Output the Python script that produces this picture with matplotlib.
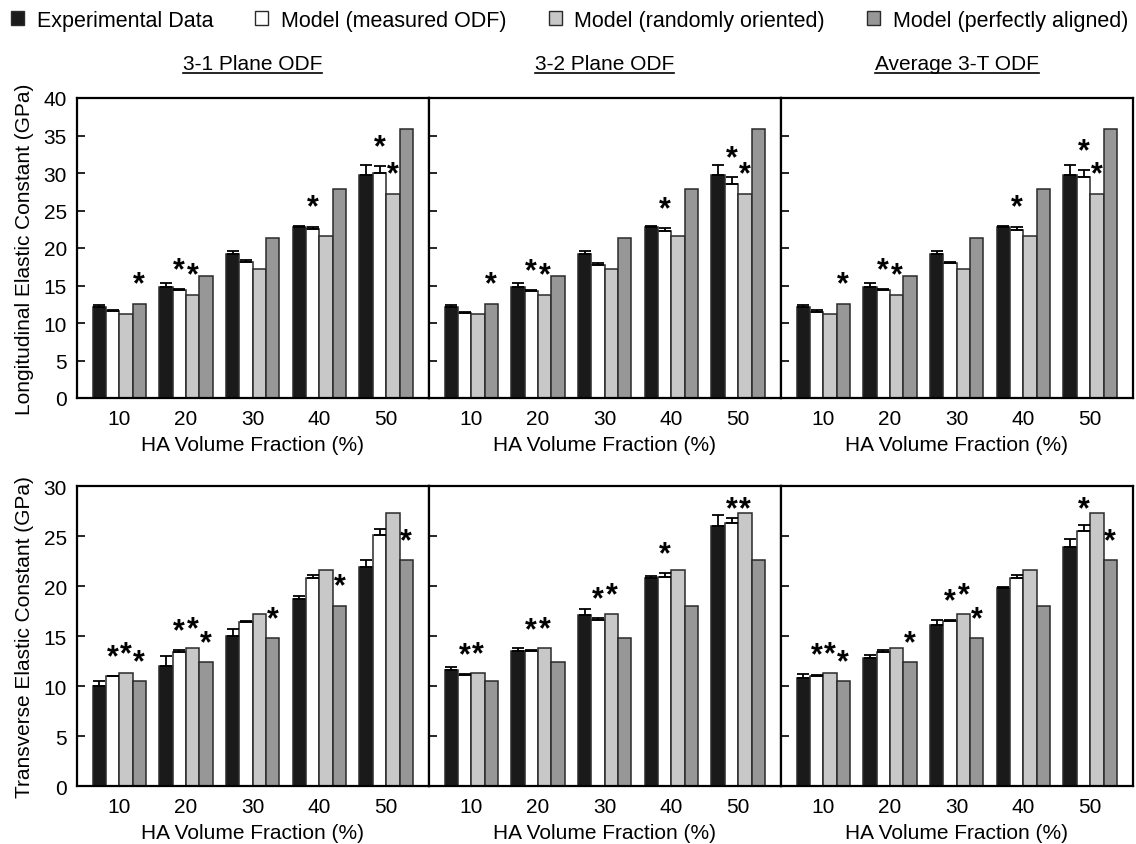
import matplotlib.pyplot as plt
import numpy as np
from matplotlib.lines import Line2D
from matplotlib.patches import Patch

plt.rcParams["font.family"] = ["Liberation Sans", "DejaVu Sans"]
plt.rcParams["font.size"] = 15

FRACTIONS = ["10", "20", "30", "40", "50"]
SERIES = [
    "Experimental Data",
    "Model (measured ODF)",
    "Model (randomly oriented)",
    "Model (perfectly aligned)",
]
PANELS = ["3-1 Plane ODF", "3-2 Plane ODF", "Average 3-T ODF"]

# Longitudinal elastic constant (GPa)
LONG_EXP = [12.2, 14.85, 19.25, 22.75, 29.8]
LONG_EXP_ERR = [0.22, 0.49, 0.31, 0.18, 1.29]
LONG_MEAS_31 = [11.65, 14.35, 18.2, 22.5, 30.0]
LONG_MEAS_31_ERR = [0.1, 0.18, 0.18, 0.36, 0.93]
LONG_MEAS_32 = [11.4, 14.27, 17.8, 22.3, 28.6]
LONG_MEAS_32_ERR = [0.13, 0.13, 0.18, 0.4, 0.84]
LONG_MEAS_AVG = [11.5, 14.35, 18.05, 22.45, 29.45]
LONG_MEAS_AVG_ERR = [0.18, 0.18, 0.13, 0.4, 0.93]
LONG_RANDOM = [11.25, 13.8, 17.15, 21.6, 27.25]
LONG_ALIGNED = [12.6, 16.3, 21.4, 27.85, 35.9]

# Transverse elastic constant (GPa)
TRANS_EXP_31 = [10.0, 12.07, 15.07, 18.7, 21.97]
TRANS_EXP_31_ERR = [0.57, 0.93, 0.63, 0.3, 0.63]
TRANS_EXP_32 = [11.67, 13.53, 17.1, 20.8, 26.03]
TRANS_EXP_32_ERR = [0.23, 0.33, 0.63, 0.2, 1.13]
TRANS_EXP_AVG = [10.83, 12.8, 16.1, 19.8, 23.97]
TRANS_EXP_AVG_ERR = [0.4, 0.33, 0.53, 0.1, 0.77]
TRANS_MEAS_31 = [11.0, 13.47, 16.4, 20.8, 25.1]
TRANS_MEAS_31_ERR = [0.05, 0.17, 0.17, 0.37, 0.63]
TRANS_MEAS_32 = [11.17, 13.53, 16.67, 20.97, 26.3]
TRANS_MEAS_32_ERR = [0.05, 0.13, 0.17, 0.33, 0.57]
TRANS_MEAS_AVG = [11.07, 13.47, 16.5, 20.8, 25.53]
TRANS_MEAS_AVG_ERR = [0.1, 0.13, 0.13, 0.3, 0.6]
TRANS_RANDOM = [11.3, 13.83, 17.2, 21.6, 27.3]
TRANS_ALIGNED = [10.5, 12.4, 14.83, 18.07, 22.6]

# Series flagged with * in each HA group (1 = measured ODF, 2 = random, 3 = aligned)
LONG_STARS = [[3], [1, 2], [], [1], [1, 2]]
TRANS_STARS_31 = [[1, 2, 3], [1, 2, 3], [3], [3], [3]]
TRANS_STARS_32 = [[1, 2], [1, 2], [1, 2], [1], [1, 2]]
TRANS_STARS_AVG = [[1, 2, 3], [3], [1, 2, 3], [], [1, 3]]

COLORS = ["#1a1a1a", "#ffffff", "#c8c8c8", "#979797"]
EDGE = "#2a2a2a"
BAR_W = 0.2

W, H = 1136, 845


def draw_panel(ax, values, errors, stars, ymax):
    x = np.arange(1, len(FRACTIONS) + 1)
    px_per_unit = 300.0 / ymax
    for k in range(4):
        xs = x + (k - 1.5) * BAR_W
        ax.bar(xs, values[k], BAR_W, color=COLORS[k], edgecolor=EDGE,
               linewidth=1.1, zorder=2)
        if errors[k] is not None:
            ax.errorbar(xs, values[k], yerr=[np.zeros(len(x)), errors[k]],
                        fmt="none", ecolor="black", elinewidth=1.3,
                        capsize=4, capthick=1.3, zorder=3)
    for g, idxs in enumerate(stars):
        for k in idxs:
            top = values[k][g] + (errors[k][g] if errors[k] is not None else 0)
            y = min(top + 19.0 / px_per_unit, ymax - 23.0 / px_per_unit)
            ax.text(x[g] + (k - 1.5) * BAR_W, y, "*", ha="center", va="center",
                    fontsize=22, fontweight="bold", zorder=4)

    ax.set_xlim(0.363, 5.637)
    ax.set_ylim(0, ymax)
    ax.set_xticks(x)
    ax.set_xticklabels(FRACTIONS)
    ax.tick_params(axis="x", length=0, pad=8, labelsize=15)
    ax.tick_params(axis="y", direction="in", length=5.5, width=1.2,
                   pad=7, labelsize=15)
    for sp in ax.spines.values():
        sp.set_linewidth(1.6)
    ax.set_xlabel("HA Volume Fraction (%)", fontsize=15, labelpad=5)


fig = plt.figure(figsize=(W / 100, H / 100), dpi=100)
fig.patch.set_facecolor("white")

left0 = 76.7 / W
pw = 352.0 / W
ph = 300.0 / H
rows = [1 - 399.0 / H, 1 - 787.3 / H]

long_sets = [
    ([LONG_EXP, LONG_MEAS_31, LONG_RANDOM, LONG_ALIGNED],
     [LONG_EXP_ERR, LONG_MEAS_31_ERR, None, None], LONG_STARS),
    ([LONG_EXP, LONG_MEAS_32, LONG_RANDOM, LONG_ALIGNED],
     [LONG_EXP_ERR, LONG_MEAS_32_ERR, None, None], LONG_STARS),
    ([LONG_EXP, LONG_MEAS_AVG, LONG_RANDOM, LONG_ALIGNED],
     [LONG_EXP_ERR, LONG_MEAS_AVG_ERR, None, None], LONG_STARS),
]
trans_sets = [
    ([TRANS_EXP_31, TRANS_MEAS_31, TRANS_RANDOM, TRANS_ALIGNED],
     [TRANS_EXP_31_ERR, TRANS_MEAS_31_ERR, None, None], TRANS_STARS_31),
    ([TRANS_EXP_32, TRANS_MEAS_32, TRANS_RANDOM, TRANS_ALIGNED],
     [TRANS_EXP_32_ERR, TRANS_MEAS_32_ERR, None, None], TRANS_STARS_32),
    ([TRANS_EXP_AVG, TRANS_MEAS_AVG, TRANS_RANDOM, TRANS_ALIGNED],
     [TRANS_EXP_AVG_ERR, TRANS_MEAS_AVG_ERR, None, None], TRANS_STARS_AVG),
]

for row, (sets, ymax, yticks) in enumerate([
        (long_sets, 40, np.arange(0, 41, 5)),
        (trans_sets, 30, np.arange(0, 31, 5))]):
    for col, (vals, errs, stars) in enumerate(sets):
        ax = fig.add_axes([left0 + col * pw, rows[row], pw, ph])
        draw_panel(ax, vals, errs, stars, ymax)
        ax.set_yticks(yticks)
        if col > 0:
            ax.set_yticklabels([])

# y-axis titles for each row
fig.text(25 / W, rows[0] + ph / 2, "Longitudinal Elastic Constant (GPa)",
         rotation=90, ha="center", va="center", fontsize=15)
fig.text(25 / W, rows[1] + ph / 2, "Transverse Elastic Constant (GPa)",
         rotation=90, ha="center", va="center", fontsize=15)

# underlined panel headings
title_texts = []
for col, name in enumerate(PANELS):
    cx = left0 + (col + 0.5) * pw
    title_texts.append(fig.text(cx, 1 - 70 / H, name, ha="center",
                                va="baseline", fontsize=15))
fig.canvas.draw()
renderer = fig.canvas.get_renderer()
for t in title_texts:
    bb = t.get_window_extent(renderer)
    fig.add_artist(Line2D([bb.x0 / W, bb.x1 / W], [1 - 74 / H] * 2,
                          color="black", linewidth=1.2))

handles = [Patch(facecolor=c, edgecolor=EDGE, linewidth=1.0) for c in COLORS]
fig.legend(handles, SERIES, loc="center left",
           bbox_to_anchor=(11 / W, 1 - 21 / H), ncol=4, frameon=False,
           fontsize=15.5, handlelength=0.6, handleheight=0.6,
           handletextpad=0.6, columnspacing=1.95, borderpad=0,
           borderaxespad=0)

fig.savefig("out.png", dpi=100)
